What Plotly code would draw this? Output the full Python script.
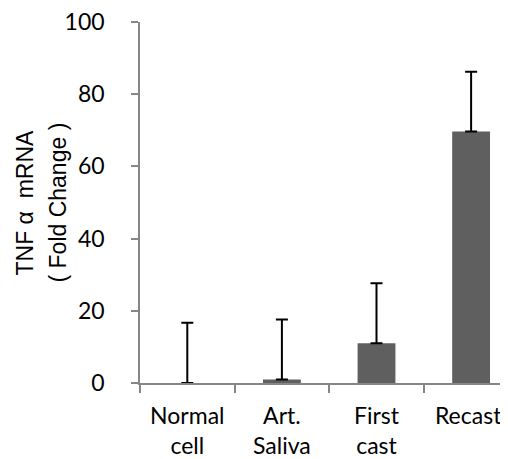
import plotly.graph_objects as go

categories = ["Normal cell", "Art. Saliva", "First cast", "Recast"]
tick_labels = ["Normal<br>cell", "Art.<br>Saliva", "First<br>cast", "Recast\u00a0"]
values = [0.0, 1.0, 11.0, 69.7]
errors_plus = [16.7, 16.6, 16.6, 16.5]
y_ticks = [0, 20, 40, 60, 80, 100]
title_line1 = "TNF\u00a0α\u00a0\u00a0mRNA"
title_line2 = "(\u00a0Fold Change\u00a0)"

# page body has an 8px default margin; compensate so the plot lands where the reference has it
fig = go.Figure()
fig.add_trace(go.Bar(
    x=categories,
    y=values,
    width=0.4,
    marker=dict(color="#5f5f5f", line=dict(width=0)),
    error_y=dict(type="data", array=errors_plus, symmetric=False,
                 arrayminus=[0, 0, 0, 0], color="black", thickness=2, width=6),
))

axis_color = "#868686"
PW = 368.0
fig.update_layout(
    width=500, height=451,
    margin=dict(l=132, r=0, t=14, b=76, autoexpand=False),
    plot_bgcolor="white", paper_bgcolor="white",
    showlegend=False,
    font=dict(family="Lato", size=20, color="black"),
    xaxis=dict(
        type="category", range=[-0.5, 3.39],
        tickvals=categories, ticktext=tick_labels,
        showline=True, linecolor=axis_color, linewidth=1.5,
        ticks="outside", ticklen=8, tickcolor=axis_color, tickwidth=1.5,
        tickson="boundaries", showgrid=False, zeroline=False,
        ticklabelstandoff=12, ticklabeloverflow="allow",
        tickfont=dict(family="Lato", size=23, color="black"),
    ),
    yaxis=dict(
        range=[0, 100], tickvals=y_ticks,
        showline=True, linecolor=axis_color, linewidth=1.5,
        ticks="outside", ticklen=7, tickcolor=axis_color, tickwidth=1.5,
        showgrid=False, zeroline=False, ticklabelstandoff=22,
        ticklabeloverflow="allow",
        tickfont=dict(family="Lato", size=23, color="black"),
    ),
    annotations=[
        dict(text=title_line1, textangle=-90, xref="paper", yref="paper",
             x=(24 - 140) / PW, y=0.5, xanchor="center", yanchor="middle",
             showarrow=False, font=dict(family="Liberation Sans", size=23, color="black")),
        dict(text=title_line2, textangle=-90, xref="paper", yref="paper",
             x=(57 - 140) / PW, y=0.5, xanchor="center", yanchor="middle",
             showarrow=False, font=dict(family="Liberation Sans", size=23, color="black")),
    ],
)

fig.write_html("out.html")
